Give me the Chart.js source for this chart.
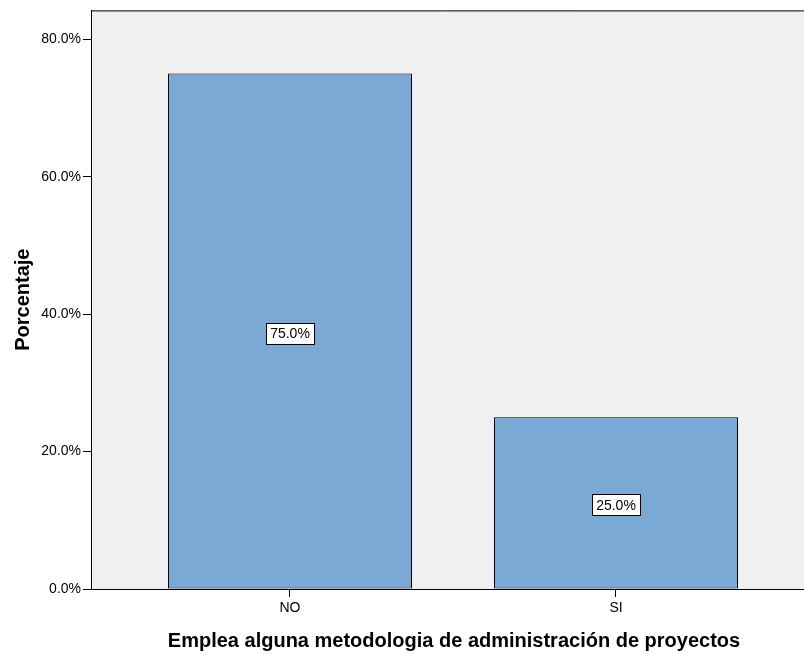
<!DOCTYPE html>
<html>
<head>
<meta charset="utf-8">
<script src="https://cdn.jsdelivr.net/npm/chart.js@4/dist/chart.umd.min.js"></script>
<style>
  html, body { margin: 0; padding: 0; background: #ffffff; }
  #wrap { width: 804px; height: 654px; }
</style>
</head>
<body>
<div id="wrap"><canvas id="c" width="804" height="654"></canvas></div>
<script>
// Respuestas: ¿Emplea alguna metodología de administración de proyectos?
const categories = ['NO', 'SI'];
const percentages = [75.0, 25.0];
const yTickValues = [0, 20, 40, 60, 80];
const yAxisTitle = 'Porcentaje';
const xAxisTitle = 'Emplea alguna metodologia de administración de proyectos';

const FONT = "'Liberation Sans', Arial, Helvetica, sans-serif";

const points = categories.map((c, i) => ({ x: i, y: percentages[i] }));

// Plot background, top frame line and axis titles
const framePlugin = {
  id: 'frame',
  beforeDraw(chart) {
    const { ctx, chartArea: a } = chart;
    ctx.save();
    ctx.fillStyle = '#f0f0f0';
    ctx.fillRect(a.left, a.top, a.right - a.left, a.bottom - a.top);
    ctx.restore();
  },
  afterDraw(chart) {
    const { ctx, chartArea: a } = chart;
    ctx.save();
    ctx.strokeStyle = '#000000';
    ctx.lineWidth = 1;
    ctx.beginPath();
    ctx.moveTo(a.left, a.top + 0.5);
    ctx.lineTo(a.right, a.top + 0.5);
    ctx.stroke();

    ctx.fillStyle = '#000000';
    ctx.font = 'bold 20px ' + FONT;
    ctx.textAlign = 'center';
    ctx.textBaseline = 'alphabetic';
    ctx.fillText(xAxisTitle, 454, 647);

    ctx.translate(29, (a.top + a.bottom) / 2);
    ctx.rotate(-Math.PI / 2);
    ctx.fillText(yAxisTitle, 0, 0);
    ctx.restore();
  }
};

// Boxed percentage label in the middle of each bar
const valueLabelPlugin = {
  id: 'valueLabels',
  afterDatasetsDraw(chart) {
    const { ctx } = chart;
    const meta = chart.getDatasetMeta(0);
    ctx.save();
    ctx.font = '14px ' + FONT;
    ctx.textAlign = 'center';
    ctx.textBaseline = 'middle';
    meta.data.forEach((bar, i) => {
      const text = percentages[i].toFixed(1) + '%';
      const cx = bar.x;
      const cy = (bar.y + bar.base) / 2 + 2;
      const w = Math.round(ctx.measureText(text).width + 8);
      const h = 21;
      const x0 = Math.round(cx - w / 2) + 0.5;
      const y0 = Math.round(cy - h / 2) + 0.5;
      ctx.fillStyle = '#ffffff';
      ctx.fillRect(x0, y0, w, h);
      ctx.strokeStyle = '#000000';
      ctx.lineWidth = 1;
      ctx.strokeRect(x0, y0, w, h);
      ctx.fillStyle = '#000000';
      ctx.fillText(text, cx, cy + 1);
    });
    ctx.restore();
  }
};

new Chart(document.getElementById('c'), {
  type: 'bar',
  data: {
    datasets: [{
      data: points,
      backgroundColor: '#7aa9d6',
      borderColor: '#000000',
      borderWidth: 1,
      borderSkipped: false,
      categoryPercentage: 1.0,
      barPercentage: 0.7485
    }]
  },
  options: {
    responsive: false,
    animation: false,
    devicePixelRatio: 1,
    layout: { padding: { top: 10, right: 0, left: 0, bottom: 0 } },
    plugins: {
      legend: { display: false },
      tooltip: { enabled: false }
    },
    scales: {
      x: {
        type: 'linear',
        offset: false,
        min: -0.6104,
        max: 1.5767,
        afterBuildTicks(scale) {
          scale.ticks = categories.map((c, i) => ({ value: i }));
        },
        afterFit(scale) { scale.height = 65; },
        grid: {
          offset: false,
          drawOnChartArea: false,
          drawTicks: true,
          tickLength: 8,
          tickColor: '#000000'
        },
        border: { display: true, color: '#000000', width: 1 },
        ticks: {
          autoSkip: false,
          maxRotation: 0,
          padding: 3,
          color: '#000000',
          font: { family: FONT, size: 14 },
          callback: (v) => categories[v] ?? ''
        }
      },
      y: {
        min: 0,
        max: 84.2,
        afterBuildTicks(scale) {
          scale.ticks = yTickValues.map(v => ({ value: v }));
        },
        afterFit(scale) { scale.width = 91; },
        grid: {
          drawOnChartArea: false,
          drawTicks: true,
          tickLength: 8,
          tickColor: '#000000'
        },
        border: { display: true, color: '#000000', width: 1 },
        ticks: {
          padding: 2,
          color: '#000000',
          font: { family: FONT, size: 14 },
          callback: (v) => v.toFixed(1) + '%'
        }
      }
    }
  },
  plugins: [framePlugin, valueLabelPlugin]
});
</script>
</body>
</html>
